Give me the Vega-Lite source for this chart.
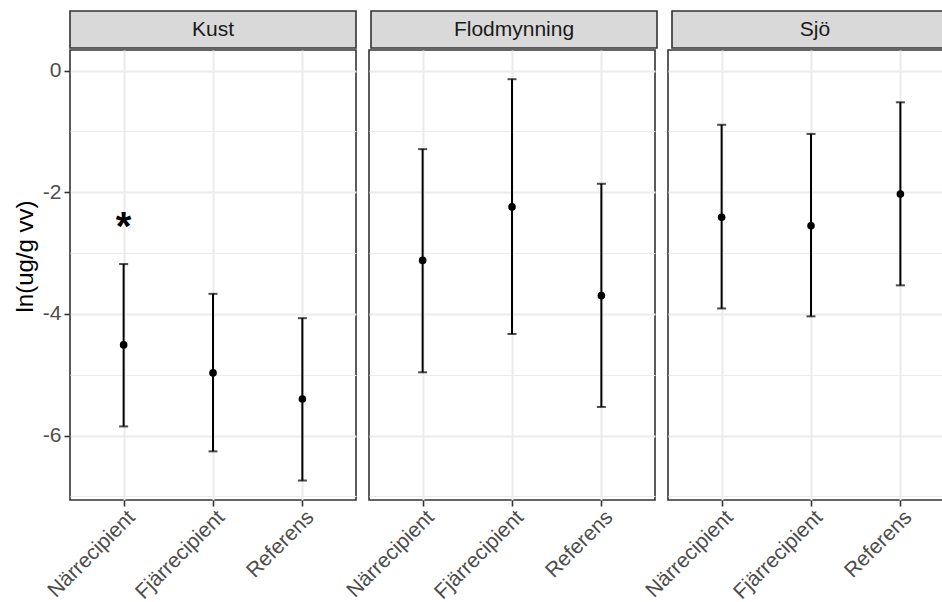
{
  "$schema": "https://vega.github.io/schema/vega-lite/v6.json",
  "padding": {"left": 12, "top": 10, "right": 0, "bottom": 0},
  "background": "white",
  "config": {
    "font": "Liberation Sans",
    "view": {"stroke": "#333333", "strokeWidth": 1.6},
    "axisX": {
      "grid": true, "gridColor": "#EBEBEB", "gridWidth": 2,
      "domain": false, "tickColor": "#333333", "tickSize": 6, "tickWidth": 1.6,
      "labelAngle": -45, "labelAlign": "right", "labelBaseline": "top",
      "labelFontSize": 21, "labelColor": "#4D4D4D", "labelPadding": 0, "title": null
    },
    "axisY": {
      "grid": true, "gridColor": "#EBEBEB",
      "gridWidth": {"condition": {"test": "datum.value % 2 !== 0", "value": 1}, "value": 2},
      "domain": false, "tickColor": "#333333", "tickSize": 6, "tickWidth": 1.6,
      "tickOpacity": {"condition": {"test": "datum.value % 2 !== 0", "value": 0}, "value": 1},
      "labelFontSize": 21, "labelColor": "#4D4D4D", "labelPadding": 3,
      "titleFontSize": 24, "titleFontWeight": "normal", "titleColor": "#000000", "titlePadding": 5
    }
  },
  "data": {
    "values": [
      {"omrade": "Kust", "lokal": "Närrecipient", "mean": -4.51, "lower": -5.85, "upper": -3.18, "sig": "*"},
      {"omrade": "Kust", "lokal": "Fjärrecipient", "mean": -4.97, "lower": -6.26, "upper": -3.67, "sig": ""},
      {"omrade": "Kust", "lokal": "Referens", "mean": -5.40, "lower": -6.74, "upper": -4.07, "sig": ""},
      {"omrade": "Flodmynning", "lokal": "Närrecipient", "mean": -3.12, "lower": -4.96, "upper": -1.29, "sig": ""},
      {"omrade": "Flodmynning", "lokal": "Fjärrecipient", "mean": -2.24, "lower": -4.33, "upper": -0.14, "sig": ""},
      {"omrade": "Flodmynning", "lokal": "Referens", "mean": -3.70, "lower": -5.53, "upper": -1.86, "sig": ""},
      {"omrade": "Sjö", "lokal": "Närrecipient", "mean": -2.41, "lower": -3.91, "upper": -0.89, "sig": ""},
      {"omrade": "Sjö", "lokal": "Fjärrecipient", "mean": -2.55, "lower": -4.04, "upper": -1.04, "sig": ""},
      {"omrade": "Sjö", "lokal": "Referens", "mean": -2.03, "lower": -3.53, "upper": -0.52, "sig": ""}
    ]
  },
  "spacing": 0,
  "vconcat": [
    {
      "spacing": 13,
      "hconcat": [
        {
          "width": 286, "height": 37,
          "view": {"fill": "#D9D9D9", "stroke": "#333333", "strokeWidth": 1.6},
          "transform": [{"filter": "datum.omrade === 'Kust' && datum.lokal === 'Närrecipient'"}],
          "mark": {"type": "text", "fontSize": 21, "color": "#1A1A1A", "baseline": "middle", "align": "center"},
          "encoding": {"text": {"field": "omrade"}}
        },
        {
          "width": 286, "height": 37,
          "view": {"fill": "#D9D9D9", "stroke": "#333333", "strokeWidth": 1.6},
          "transform": [{"filter": "datum.omrade === 'Flodmynning' && datum.lokal === 'Närrecipient'"}],
          "mark": {"type": "text", "fontSize": 21, "color": "#1A1A1A", "baseline": "middle", "align": "center"},
          "encoding": {"text": {"field": "omrade"}}
        },
        {
          "width": 286, "height": 37,
          "view": {"fill": "#D9D9D9", "stroke": "#333333", "strokeWidth": 1.6},
          "transform": [{"filter": "datum.omrade === 'Sjö' && datum.lokal === 'Närrecipient'"}],
          "mark": {"type": "text", "fontSize": 21, "color": "#1A1A1A", "baseline": "middle", "align": "center"},
          "encoding": {"text": {"field": "omrade"}}
        }
      ]
    },
    {
      "spacing": 13,
      "bounds": "flush",
      "hconcat": [
        {
          "width": 286, "height": 450,
          "transform": [{"filter": "datum.omrade === 'Kust'"}],
          "encoding": {
            "x": {"field": "lokal", "type": "nominal", "scale": {"type": "point", "padding": 0.6, "domain": ["Närrecipient", "Fjärrecipient", "Referens"]}}
          },
          "layer": [
            {
              "mark": {"type": "rule", "strokeWidth": 2, "color": "#000000"},
              "encoding": {
                "y": {"field": "lower", "type": "quantitative", "scale": {"domain": [-7.06, 0.34], "nice": false, "zero": false},
                  "axis": {"title": "ln(ug/g vv)", "titleY": 206, "values": [-7, -6, -5, -4, -3, -2, -1, 0], "labelExpr": "datum.value % 2 === 0 ? '' + datum.value : ''"}},
                "y2": {"field": "upper"}
              }
            },
            {"mark": {"type": "tick", "thickness": 2, "size": 9, "color": "#000000"}, "encoding": {"y": {"field": "lower", "type": "quantitative"}}},
            {"mark": {"type": "tick", "thickness": 2, "size": 9, "color": "#000000"}, "encoding": {"y": {"field": "upper", "type": "quantitative"}}},
            {"mark": {"type": "circle", "size": 58, "opacity": 1, "color": "#000000"}, "encoding": {"y": {"field": "mean", "type": "quantitative"}}},
            {
              "transform": [{"filter": "datum.sig !== ''"}],
              "mark": {"type": "text", "fontSize": 40, "fontWeight": "bold", "color": "#000000", "baseline": "alphabetic", "align": "center", "dy": -24},
              "encoding": {"y": {"field": "upper", "type": "quantitative"}, "text": {"field": "sig"}}
            }
          ]
        },
        {
          "width": 286, "height": 450,
          "transform": [{"filter": "datum.omrade === 'Flodmynning'"}],
          "encoding": {
            "x": {"field": "lokal", "type": "nominal", "scale": {"type": "point", "padding": 0.6, "domain": ["Närrecipient", "Fjärrecipient", "Referens"]}}
          },
          "layer": [
            {
              "mark": {"type": "rule", "strokeWidth": 2, "color": "#000000"},
              "encoding": {
                "y": {"field": "lower", "type": "quantitative", "scale": {"domain": [-7.06, 0.34], "nice": false, "zero": false},
                  "axis": {"title": null, "values": [-7, -6, -5, -4, -3, -2, -1, 0], "labels": false, "ticks": false}},
                "y2": {"field": "upper"}
              }
            },
            {"mark": {"type": "tick", "thickness": 2, "size": 9, "color": "#000000"}, "encoding": {"y": {"field": "lower", "type": "quantitative"}}},
            {"mark": {"type": "tick", "thickness": 2, "size": 9, "color": "#000000"}, "encoding": {"y": {"field": "upper", "type": "quantitative"}}},
            {"mark": {"type": "circle", "size": 58, "opacity": 1, "color": "#000000"}, "encoding": {"y": {"field": "mean", "type": "quantitative"}}}
          ]
        },
        {
          "width": 286, "height": 450,
          "transform": [{"filter": "datum.omrade === 'Sjö'"}],
          "encoding": {
            "x": {"field": "lokal", "type": "nominal", "scale": {"type": "point", "padding": 0.6, "domain": ["Närrecipient", "Fjärrecipient", "Referens"]}}
          },
          "layer": [
            {
              "mark": {"type": "rule", "strokeWidth": 2, "color": "#000000"},
              "encoding": {
                "y": {"field": "lower", "type": "quantitative", "scale": {"domain": [-7.06, 0.34], "nice": false, "zero": false},
                  "axis": {"title": null, "values": [-7, -6, -5, -4, -3, -2, -1, 0], "labels": false, "ticks": false}},
                "y2": {"field": "upper"}
              }
            },
            {"mark": {"type": "tick", "thickness": 2, "size": 9, "color": "#000000"}, "encoding": {"y": {"field": "lower", "type": "quantitative"}}},
            {"mark": {"type": "tick", "thickness": 2, "size": 9, "color": "#000000"}, "encoding": {"y": {"field": "upper", "type": "quantitative"}}},
            {"mark": {"type": "circle", "size": 58, "opacity": 1, "color": "#000000"}, "encoding": {"y": {"field": "mean", "type": "quantitative"}}}
          ]
        }
      ]
    }
  ]
}
